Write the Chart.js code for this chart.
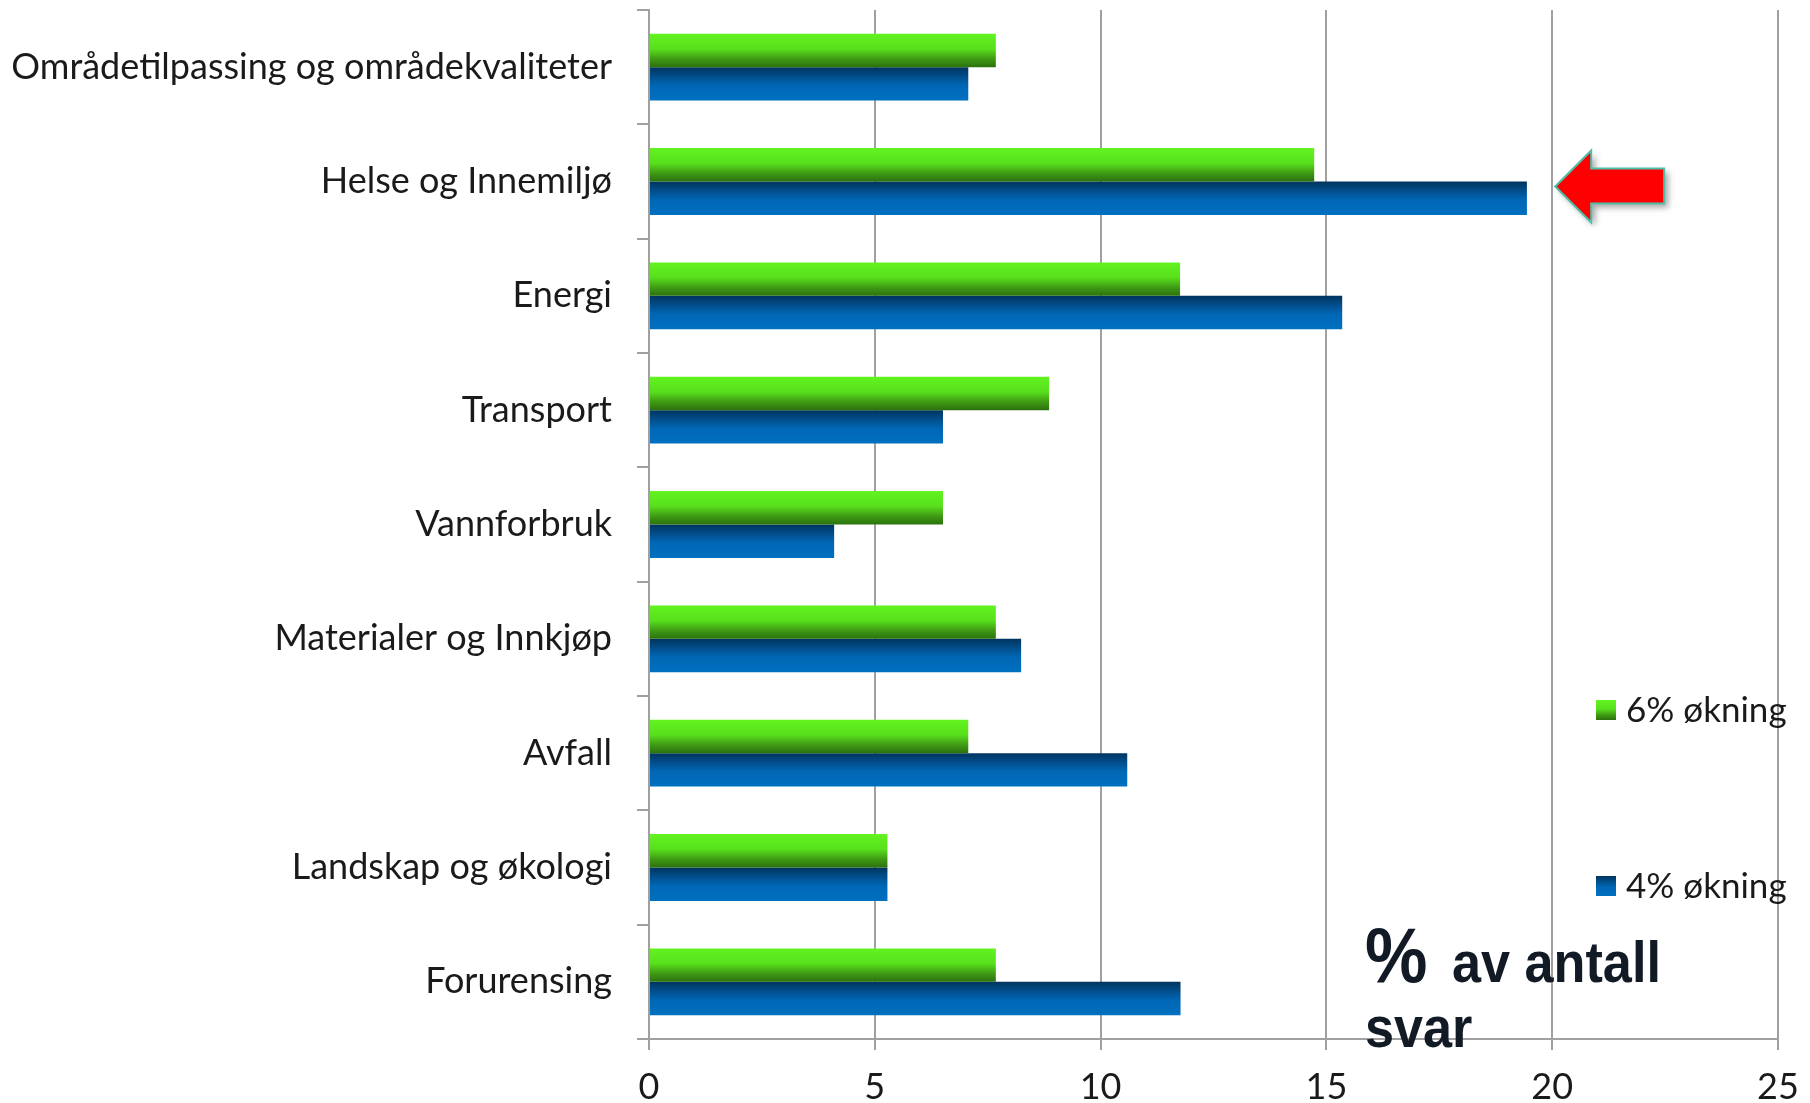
<!DOCTYPE html>
<html>
<head>
<meta charset="utf-8">
<script src="https://cdn.jsdelivr.net/npm/chart.js@4.4.1/dist/chart.umd.min.js"></script>
<style>
  html, body { margin: 0; padding: 0; background: #ffffff; }
  #wrap { width: 1810px; height: 1103px; position: relative; }
</style>
</head>
<body>
<div id="wrap"><canvas id="c" width="1810" height="1103"></canvas></div>
<script>
// ---- data ----
const categories = [
  'Områdetilpassing og områdekvaliteter',
  'Helse og Innemiljø',
  'Energi',
  'Transport',
  'Vannforbruk',
  'Materialer og Innkjøp',
  'Avfall',
  'Landskap og økologi',
  'Forurensing'
];
const seriesLabels = ['6% økning', '4% økning'];
const values6 = [7.68, 14.73, 11.76, 8.86, 6.51, 7.68, 7.07, 5.28, 7.68];
const values4 = [7.07, 19.44, 15.35, 6.51, 4.10, 8.24, 10.59, 5.28, 11.77];
const xTickValues = [0, 5, 10, 15, 20, 25];
const noteLines = ['%', 'av antall', 'svar'];

// ---- styles ----
const CAT_PCT = 0.585;
const greenStops = [[0, '#62f320'], [0.45, '#58e01c'], [0.75, '#3f9a14'], [1, '#2b720d']];
const blueStops  = [[0, '#00345e'], [0.3, '#02508f'], [0.55, '#0067b5'], [1, '#0070c0']];

function barGradient(stops) {
  return function (ctx) {
    const chart = ctx.chart;
    const ys = chart.scales && chart.scales.y;
    if (!ys || ctx.type !== 'data' || !chart.chartArea) return stops[2][1];
    const c = ys.getPixelForValue(ctx.dataIndex);
    const catH = Math.abs(ys.getPixelForValue(1) - ys.getPixelForValue(0));
    const barH = catH * CAT_PCT / 2;
    const top = c - barH + ctx.datasetIndex * barH;
    const g = chart.ctx.createLinearGradient(0, top, 0, top + barH);
    stops.forEach(s => g.addColorStop(s[0], s[1]));
    return g;
  };
}

const FONT = 'Lato, "Open Sans", sans-serif';
const GRID = '#a0a0a0';

const legendPlugin = {
  id: 'customLegend',
  afterDraw(chart) {
    const ctx = chart.ctx;
    const items = [
      { y: 700, stops: greenStops, label: chart.data.datasets[0].label },
      { y: 876, stops: blueStops, label: chart.data.datasets[1].label }
    ];
    ctx.save();
    items.forEach(it => {
      const g = ctx.createLinearGradient(0, it.y, 0, it.y + 20);
      it.stops.forEach(s => g.addColorStop(s[0], s[1]));
      ctx.fillStyle = g;
      ctx.fillRect(1596, it.y, 20, 20);
      ctx.fillStyle = '#1a1a1a';
      ctx.font = '35px ' + FONT;
      ctx.textBaseline = 'middle';
      ctx.textAlign = 'left';
      ctx.fillText(it.label, 1626, it.y + 11);
    });
    ctx.restore();
  }
};

const annotationPlugin = {
  id: 'notes',
  afterDraw(chart) {
    const ctx = chart.ctx;
    const xs = chart.scales.x, ys = chart.scales.y;
    // red arrow pointing at Helse og Innemiljø
    const tipX = xs.getPixelForValue(20) + 3;
    const tipY = ys.getPixelForValue(1) + 5;
    ctx.save();
    ctx.beginPath();
    ctx.moveTo(tipX, tipY);
    ctx.lineTo(tipX + 36, tipY - 36);
    ctx.lineTo(tipX + 36, tipY - 18);
    ctx.lineTo(tipX + 109, tipY - 18);
    ctx.lineTo(tipX + 109, tipY + 17);
    ctx.lineTo(tipX + 36, tipY + 17);
    ctx.lineTo(tipX + 36, tipY + 36);
    ctx.closePath();
    ctx.shadowColor = 'rgba(0,0,0,0.35)';
    ctx.shadowOffsetX = 4;
    ctx.shadowOffsetY = 4;
    ctx.shadowBlur = 6;
    ctx.fillStyle = '#ff0000';
    ctx.fill();
    ctx.shadowColor = 'transparent';
    ctx.lineWidth = 2;
    ctx.strokeStyle = '#4fbfaa';
    ctx.stroke();
    ctx.restore();

    // "% av antall svar"
    ctx.save();
    ctx.fillStyle = '#121b25';
    ctx.textBaseline = 'alphabetic';
    ctx.textAlign = 'left';
    const draw = (txt, x, y, size) => {
      ctx.save();
      ctx.translate(x, y);
      ctx.scale(0.9, 1);
      ctx.font = 'bold ' + size + 'px "Liberation Sans", Arial, sans-serif';
      ctx.fillText(txt, 0, 0);
      ctx.restore();
    };
    draw(noteLines[0], 1365, 982, 78);
    draw(noteLines[1], 1452, 982, 58);
    draw(noteLines[2], 1365, 1047, 58);
    ctx.restore();
  }
};

new Chart(document.getElementById('c'), {
  type: 'bar',
  data: {
    labels: categories,
    datasets: [
      { label: seriesLabels[0], data: values6, backgroundColor: barGradient(greenStops),
        borderWidth: 0 },
      { label: seriesLabels[1], data: values4, backgroundColor: barGradient(blueStops),
        borderWidth: 0 }
    ]
  },
  options: {
    indexAxis: 'y',
    responsive: false,
    animation: false,
    devicePixelRatio: 1,
    events: [],
    layout: { padding: { top: 10, right: 32, bottom: 0, left: 0 } },
    datasets: { bar: { categoryPercentage: CAT_PCT, barPercentage: 1 } },
    plugins: { legend: { display: false }, tooltip: { enabled: false } },
    scales: {
      x: {
        min: xTickValues[0],
        max: xTickValues[xTickValues.length - 1],
        afterBuildTicks(scale) { scale.ticks = xTickValues.map(v => ({ value: v })); },
        afterFit(scale) { scale.height = 64; scale.paddingLeft = 0; scale.paddingRight = 0; },
        grid: { color: GRID, lineWidth: 2, drawTicks: true, tickLength: 11, tickColor: GRID },
        border: { display: true, color: GRID, width: 2 },
        ticks: { color: '#1a1a1a', font: { family: FONT, size: 36 }, padding: 16 }
      },
      y: {
        afterFit(scale) { scale.width = 649; scale.paddingTop = 0; scale.paddingBottom = 0; },
        grid: { drawOnChartArea: false, drawTicks: true, tickLength: 12, color: GRID, lineWidth: 2, offset: true },
        border: { display: true, color: GRID, width: 2 },
        ticks: { color: '#1a1a1a', font: { family: FONT, size: 36 }, padding: 25, crossAlign: 'near' }
      }
    }
  },
  plugins: [legendPlugin, annotationPlugin]
});
</script>
</body>
</html>
